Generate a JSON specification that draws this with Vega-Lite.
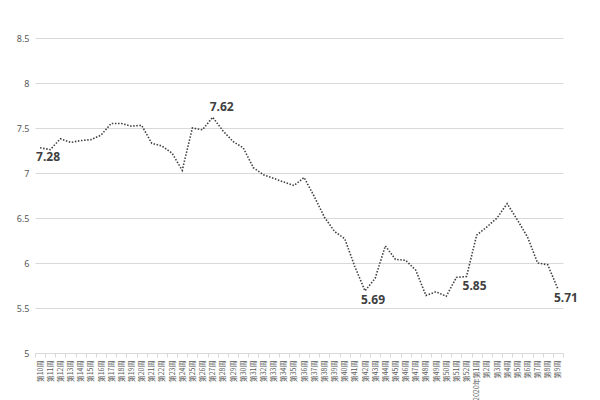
{
  "$schema": "https://vega.github.io/schema/vega-lite/v6.json",
  "width": 528,
  "height": 315,
  "autosize": {"type": "none"},
  "padding": {"left": 35, "top": 38, "right": 37, "bottom": 47},
  "background": "white",
  "config": {"view": {"stroke": null}},
  "data": {
    "values": [
      {"week": "第10周", "price": 7.28, "label": "7.28", "pos": "below"},
      {"week": "第11周", "price": 7.26},
      {"week": "第12周", "price": 7.38},
      {"week": "第13周", "price": 7.34},
      {"week": "第14周", "price": 7.36},
      {"week": "第15周", "price": 7.37},
      {"week": "第16周", "price": 7.42},
      {"week": "第17周", "price": 7.55},
      {"week": "第18周", "price": 7.55},
      {"week": "第19周", "price": 7.52},
      {"week": "第20周", "price": 7.53},
      {"week": "第21周", "price": 7.33},
      {"week": "第22周", "price": 7.3},
      {"week": "第23周", "price": 7.22},
      {"week": "第24周", "price": 7.03},
      {"week": "第25周", "price": 7.5},
      {"week": "第26周", "price": 7.48},
      {"week": "第27周", "price": 7.62, "label": "7.62", "pos": "above"},
      {"week": "第28周", "price": 7.47},
      {"week": "第29周", "price": 7.35},
      {"week": "第30周", "price": 7.28},
      {"week": "第31周", "price": 7.06},
      {"week": "第32周", "price": 6.98},
      {"week": "第33周", "price": 6.94},
      {"week": "第34周", "price": 6.9},
      {"week": "第35周", "price": 6.86},
      {"week": "第36周", "price": 6.95},
      {"week": "第37周", "price": 6.74},
      {"week": "第38周", "price": 6.51},
      {"week": "第39周", "price": 6.35},
      {"week": "第40周", "price": 6.27},
      {"week": "第41周", "price": 5.96},
      {"week": "第42周", "price": 5.69, "label": "5.69", "pos": "below"},
      {"week": "第43周", "price": 5.83},
      {"week": "第44周", "price": 6.19},
      {"week": "第45周", "price": 6.04},
      {"week": "第46周", "price": 6.03},
      {"week": "第47周", "price": 5.92},
      {"week": "第48周", "price": 5.64},
      {"week": "第49周", "price": 5.68},
      {"week": "第50周", "price": 5.63},
      {"week": "第51周", "price": 5.84},
      {"week": "第52周", "price": 5.85, "label": "5.85", "pos": "below"},
      {"week": "2020年第1周", "price": 6.31},
      {"week": "第2周", "price": 6.4},
      {"week": "第3周", "price": 6.5},
      {"week": "第4周", "price": 6.66},
      {"week": "第5周", "price": 6.48},
      {"week": "第6周", "price": 6.29},
      {"week": "第7周", "price": 6.0},
      {"week": "第8周", "price": 5.98},
      {"week": "第9周", "price": 5.71, "label": "5.71", "pos": "below"}
    ]
  },
  "encoding": {
    "x": {
      "field": "week",
      "type": "ordinal",
      "sort": null,
      "scale": {"type": "band", "paddingInner": 0, "paddingOuter": 0},
      "axis": {
        "title": null,
        "tickBand": "extent",
        "ticks": true,
        "tickColor": "#d9d9d9",
        "tickSize": 4,
        "domainColor": "#d9d9d9",
        "labelAngle": -90,
        "labelFontSize": 7,
        "labelFont": "Noto Sans CJK SC",
        "labelColor": "#595959",
        "labelPadding": 3,
        "grid": false
      }
    },
    "y": {
      "field": "price",
      "type": "quantitative",
      "scale": {"domain": [5, 8.5], "nice": false, "zero": false},
      "axis": {
        "title": null,
        "values": [5, 5.5, 6, 6.5, 7, 7.5, 8, 8.5],
        "format": "~g",
        "grid": true,
        "gridColor": "#d9d9d9",
        "domain": false,
        "ticks": false,
        "labelFontSize": 9,
        "labelFont": "Noto Sans",
        "labelColor": "#595959",
        "labelPadding": 6
      }
    }
  },
  "layer": [
    {
      "mark": {"type": "line", "color": "#404040", "strokeWidth": 1.6, "strokeDash": [1.5, 1.6]}
    },
    {
      "transform": [{"filter": "datum.pos == 'above'"}],
      "mark": {"type": "text", "font": "Open Sans", "fontWeight": "bold", "fontSize": 12, "color": "#404040", "baseline": "bottom", "dy": -3, "dx": 9},
      "encoding": {"text": {"field": "label"}}
    },
    {
      "transform": [{"filter": "datum.pos == 'below'"}],
      "mark": {"type": "text", "font": "Open Sans", "fontWeight": "bold", "fontSize": 12, "color": "#404040", "baseline": "top", "dy": 4, "dx": 8},
      "encoding": {"text": {"field": "label"}}
    }
  ]
}
